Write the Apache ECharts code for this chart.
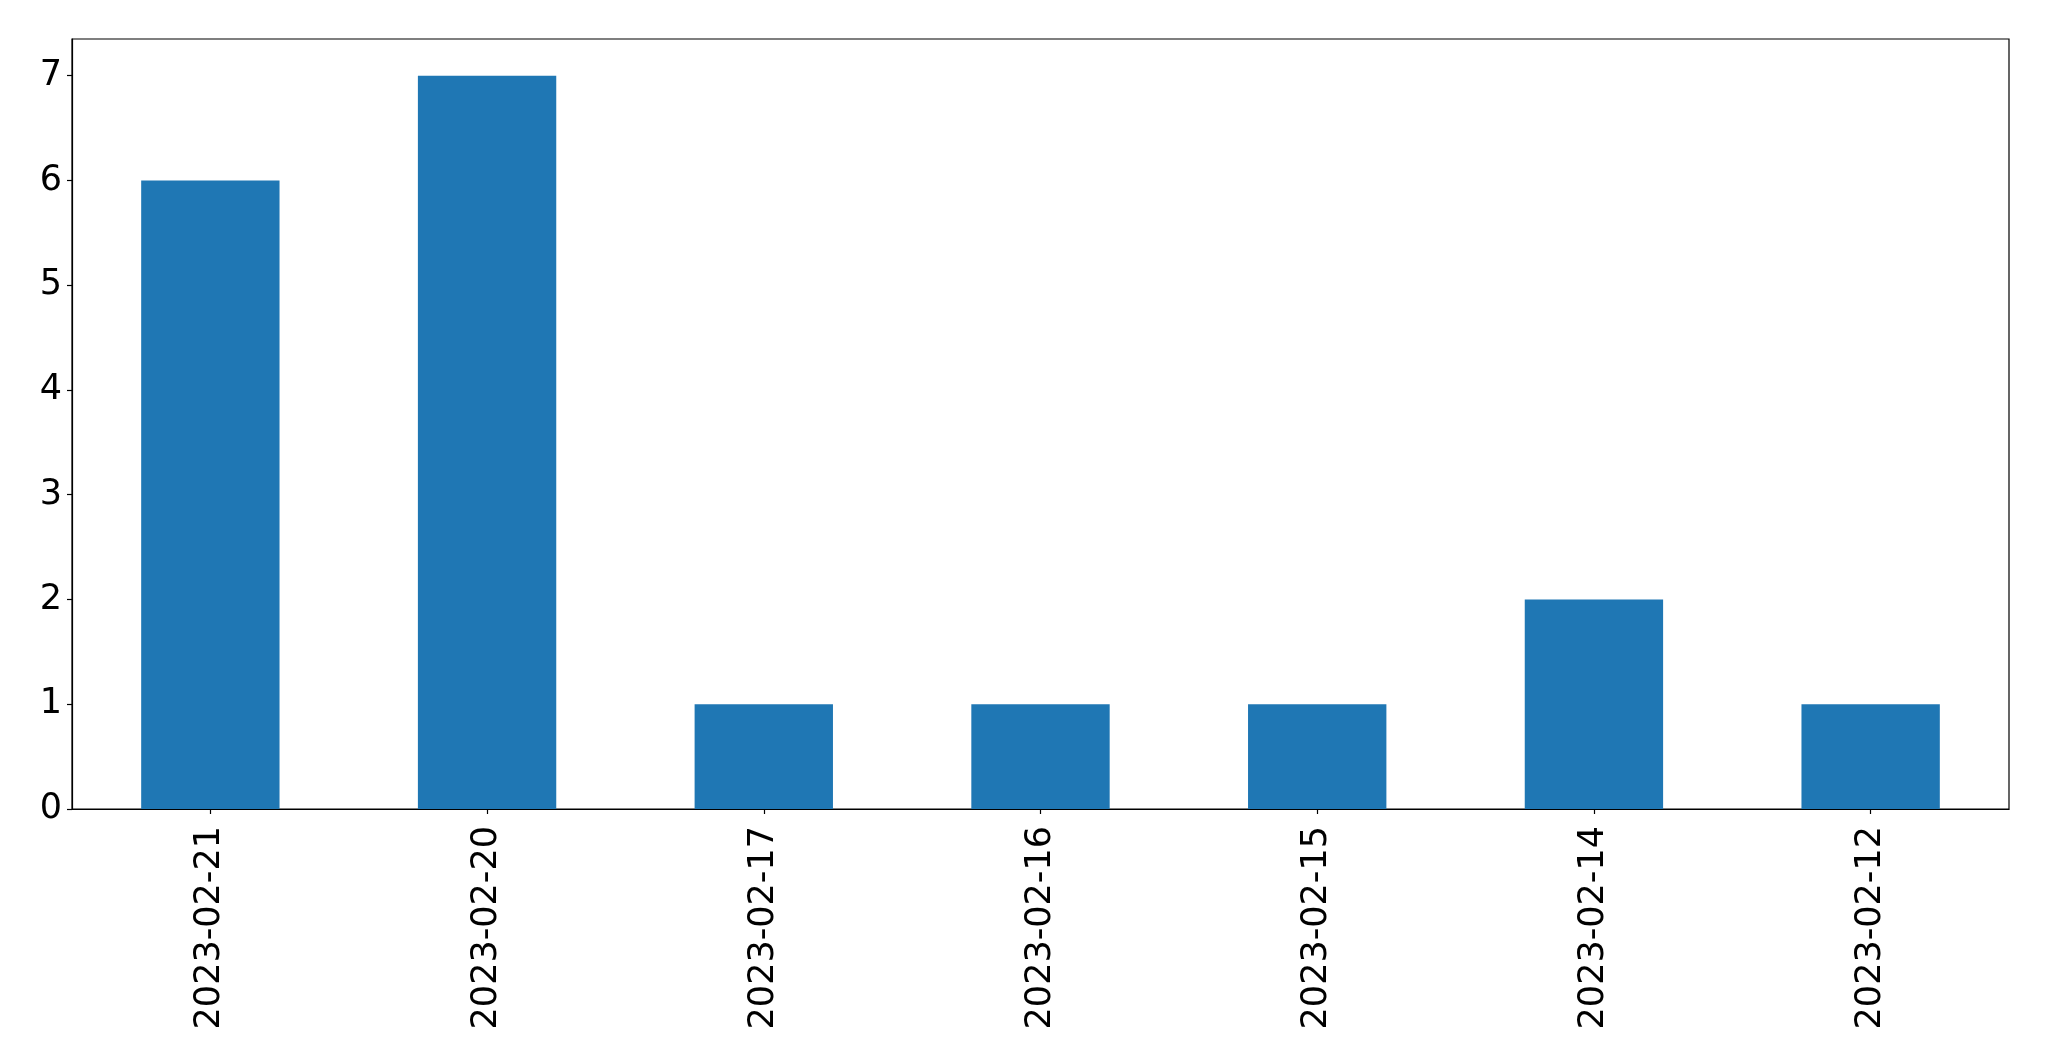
<!DOCTYPE html>
<html>
<head>
<meta charset="utf-8">
<script src="https://cdn.jsdelivr.net/npm/echarts@6/dist/echarts.min.js"></script>
<style>html,body{margin:0;padding:0;background:#fff;}#c{width:2049px;height:1061px;}</style>
</head>
<body>
<div id="c"></div>
<script>
const categories = ["2023-02-21","2023-02-20","2023-02-17","2023-02-16","2023-02-15","2023-02-14","2023-02-12"];
const values = [6, 7, 1, 1, 1, 2, 1];
const yTicks = [0, 1, 2, 3, 4, 5, 6, 7];

const chart = echarts.init(document.getElementById('c'), null, {renderer: 'canvas'});
const font = 'DejaVu Sans';
chart.setOption({
  animation: false,
  backgroundColor: '#ffffff',
  grid: {left: 72, right: 40, top: 39, bottom: 252, show: true, borderColor: '#000', borderWidth: 1.2, backgroundColor: 'transparent'},
  xAxis: {
    type: 'category',
    data: categories,
    boundaryGap: true,
    axisLine: {show: true, lineStyle: {color: '#000', width: 1.2}},
    axisTick: {show: true, alignWithLabel: true, length: 5, lineStyle: {color: '#000', width: 1.2}},
    axisLabel: {rotate: 90, margin: 17, color: '#000', fontSize: 35, fontFamily: font, interval: 0},
    splitLine: {show: false}
  },
  yAxis: {
    type: 'value',
    min: 0,
    max: 7.35,
    interval: 1,
    axisLine: {show: true, lineStyle: {color: '#000', width: 1.2}},
    axisTick: {show: true, length: 5, customValues: yTicks, lineStyle: {color: '#000', width: 1.2}},
    axisLabel: {margin: 10, color: '#000', fontSize: 35, fontFamily: font, customValues: yTicks, padding: [5, 0, 0, 0]},
    splitLine: {show: false}
  },
  series: [{
    type: 'bar',
    data: values,
    barWidth: '50%',
    itemStyle: {color: '#1f77b4'}
  }]
});
</script>
</body>
</html>
